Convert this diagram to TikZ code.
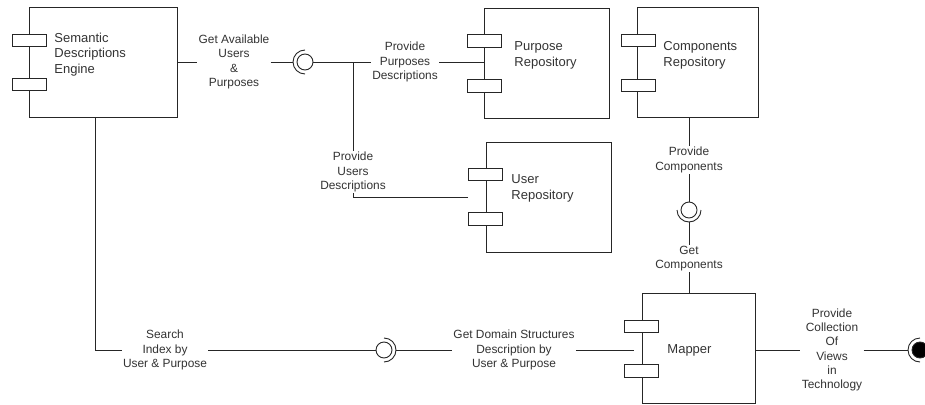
\documentclass[tikz,border=0pt]{standalone}
\usepackage{fontspec}
\setmainfont{Liberation Sans}
\usetikzlibrary{calc}

\begin{document}
\begin{tikzpicture}[x=1pt,y=-1pt,line width=0.9pt,color=black!85,
  comp/.style={draw,minimum width=#1,minimum height=110pt,inner sep=0pt},
  port/.style={draw,fill=white,minimum width=34pt,minimum height=12.5pt,inner sep=0pt},
  cname/.style={anchor=west,align=left,inner sep=0pt,text=black!80,font=\fontsize{13}{15.6}\selectfont},
  lbl/.style={fill=white,align=center,inner sep=1pt,text=black!80,font=\fontsize{11.9}{14.3}\selectfont},
  ball/.style={draw,circle,minimum size=16pt,inner sep=0pt}]
\useasboundingbox (0,0) rectangle (925,404);

\node[comp=148pt] (sde) at (103,62) {};
\node[port] (sdep1) at (29,40.5) {};
\node[port] (sdep2) at (29,84.5) {};
\node[cname] (sdet) at (54,54.5) {Semantic\\Descriptions\\Engine};

\node[comp=125pt] (purp) at (546.5,63) {};
\node[port] (purpp1) at (484.5,41) {};
\node[port] (purpp2) at (484.5,86) {};
\node[cname] (purpt) at (514,55.5) {Purpose\\Repository};

\node[comp=121pt] (compo) at (697.5,62) {};
\node[port] (compop1) at (638,40.5) {};
\node[port] (compop2) at (638,85.5) {};
\node[cname] (compot) at (663,55.5) {Components\\Repository};

\node[comp=125pt] (user) at (548.5,197) {};
\node[port] (userp1) at (485.5,174.5) {};
\node[port] (userp2) at (485.5,219) {};
\node[cname] (usert) at (511,188.5) {User\\Repository};

\node[comp=113pt] (mapper) at (698.5,348) {};
\node[port] (mapperp1) at (641.5,326.5) {};
\node[port] (mapperp2) at (641.5,371) {};
\node[cname] (mappert) at (667,350) {Mapper};

% interfaces
\node[ball] (b1) at (305,62) {};
\draw (b1.center) ++(0,-12) arc[start angle=270,end angle=90,radius=12];
\coordinate (s1) at ($(b1)+(-12,0)$);
\node[ball] (b2) at (689,210) {};
\draw (b2.center) ++(-12,0) arc[start angle=180,end angle=0,radius=12];
\coordinate (s2) at ($(b2)+(0,12)$);
\node[ball] (b3) at (384,350) {};
\draw (b3.center) ++(0,-12) arc[start angle=270,end angle=450,radius=12];
\coordinate (s3) at ($(b3)+(12,0)$);
\node[ball,fill=black] (b4) at (920,350) {};
\draw (b4.center) ++(0,-12) arc[start angle=270,end angle=90,radius=12];
\coordinate (s4) at ($(b4)+(-12,0)$);

\node[lbl] (gaup) at (234,62) {Get Available\\Users\\\&\\Purposes};
\node[lbl] (ppd) at (405,62) {Provide\\Purposes\\Descriptions};
\node[lbl] (pud) at (353,172) {Provide\\Users\\Descriptions};
\node[lbl] (pc) at (689,160) {Provide\\Components};
\node[lbl] (gc) at (689,258.5) {Get\\Components};
\node[lbl] (sip) at (165,350) {Search\\Index by\\User \& Purpose};
\node[lbl] (gds) at (514,350) {Get Domain Structures\\Description by\\User \& Purpose};
\node[lbl] (pcv) at (832,350) {Provide\\Collection\\Of\\Views\\in\\Technology};

\coordinate (j1) at (pud |- b1);
\coordinate (userin) at (userp1.west |- user.west);
\coordinate (sdeout) at ([xshift=-8pt]sde.south);
\coordinate (mapin) at (634,350);

\draw (sde.east) -- (gaup);
\draw (gaup) -- (s1);
\draw (b1) -- (ppd);
\draw (ppd) -- (ppd -| purp.west);
\draw (userin) -| (pud);
\draw (pud) -- (j1);
\draw (b2 |- compo.south) -- (pc);
\draw (pc) -- (b2);
\draw (s2) -- (gc);
\draw (gc) -- (gc |- mapper.north);
\draw (sdeout) |- (sip);
\draw (sip) -- (b3);
\draw (s3) -- (gds);
\draw (gds) -- (mapin);
\draw (pcv -| mapper.east) -- (pcv);
\draw (pcv) -- (s4);
\end{tikzpicture}
\end{document}
